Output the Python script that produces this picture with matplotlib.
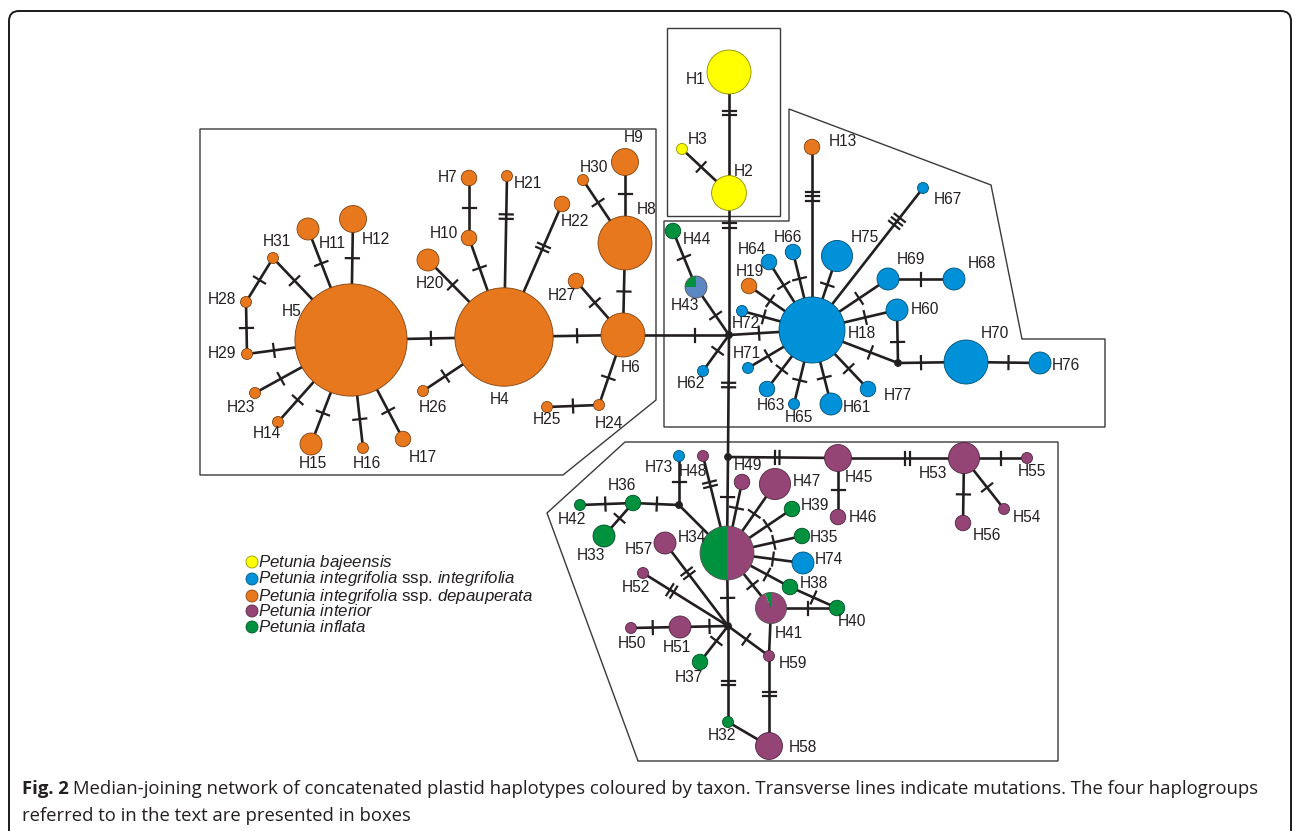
import numpy as np
import matplotlib.pyplot as plt
from matplotlib.patches import Circle, Wedge, Polygon, FancyBboxPatch

plt.rcParams['font.family'] = ['Liberation Sans', 'DejaVu Sans']

# taxa shown in the network
taxon_keys = ['baj', 'int', 'dep', 'inr', 'inf']
taxon_labels = [
    r'$\mathit{Petunia\ bajeensis}$',
    r'$\mathit{Petunia\ integrifolia}$ ssp. $\mathit{integrifolia}$',
    r'$\mathit{Petunia\ integrifolia}$ ssp. $\mathit{depauperata}$',
    r'$\mathit{Petunia\ interior}$',
    r'$\mathit{Petunia\ inflata}$',
]
taxon_colors = {'baj': '#ffff00', 'int': '#0091d8', 'dep': '#e8781e',
                'inr': '#944475', 'inf': '#00913f', 'unk': '#5b87c2'}

# haplotype frequencies by taxon
freq_baj = {'H1': 16, 'H2': 10, 'H3': 1}
freq_dep = {'H4': 80, 'H5': 104, 'H6': 16, 'H7': 2, 'H8': 24, 'H9': 6, 'H10': 2,
            'H11': 4, 'H12': 6, 'H13': 2, 'H14': 1, 'H15': 4, 'H16': 1, 'H17': 2,
            'H19': 2, 'H20': 4, 'H21': 1, 'H22': 2, 'H23': 1, 'H24': 1, 'H25': 1,
            'H26': 1, 'H27': 2, 'H28': 1, 'H29': 1, 'H30': 1, 'H31': 1}
freq_int = {'H18': 36, 'H60': 4, 'H61': 4, 'H62': 1, 'H63': 2, 'H64': 2, 'H65': 1,
            'H66': 2, 'H67': 1, 'H68': 4, 'H69': 4, 'H70': 16, 'H71': 1, 'H72': 1,
            'H73': 1, 'H74': 4, 'H75': 8, 'H76': 4, 'H77': 2}
freq_inr = {'H45': 6, 'H46': 2, 'H47': 8, 'H48': 1, 'H49': 2, 'H50': 1, 'H51': 4,
            'H52': 1, 'H53': 8, 'H54': 1, 'H55': 1, 'H56': 2, 'H57': 4, 'H58': 6,
            'H59': 1}
freq_inf = {'H32': 1, 'H33': 4, 'H35': 2, 'H36': 2, 'H37': 2, 'H38': 2, 'H39': 2,
            'H40': 2, 'H42': 1, 'H44': 2}
# shared haplotypes (slices in drawing order, starting at the top)
freq_mixed = {'H34': [('inf', 12), ('inr', 12)],
              'H43': [('inf', 1), ('unk', 3)],
              'H41': [('inf', 0.5), ('inr', 7.5)]}

# network edges: (from, to, mutations, tick position along the gap)
edges = [
    ('H1', 'H2', 2, 0.23), ('H3', 'H2', 1, 0.5), ('H2', 'mv1', 2, 0.12),
    ('H5', 'H4', 1, 0.5), ('H4', 'H6', 1, 0.5), ('H6', 'H8', 1, 0.5),
    ('H9', 'H8', 1, 0.45), ('H30', 'H8', 1, 0.5), ('H27', 'H6', 1, 0.5),
    ('H6', 'H24', 1, 0.5), ('H25', 'H24', 1, 0.5), ('H26', 'H4', 1, 0.5),
    ('H20', 'H4', 1, 0.5), ('H10', 'H4', 1, 0.5), ('H7', 'H10', 1, 0.5),
    ('H21', 'H4', 2, 0.33), ('H22', 'H4', 2, 0.45), ('H12', 'H5', 1, 0.5),
    ('H11', 'H5', 1, 0.5), ('H31', 'H5', 1, 0.5), ('H28', 'H31', 1, 0.5),
    ('H29', 'H28', 1, 0.5), ('H29', 'H5', 1, 0.5), ('H23', 'H5', 1, 0.5),
    ('H14', 'H5', 1, 0.5), ('H15', 'H5', 1, 0.5), ('H16', 'H5', 1, 0.5),
    ('H17', 'H5', 1, 0.5),
    ('H6', 'mv1', 1, 0.6), ('mv1', 'H18', 1, 0.6), ('H44', 'H43', 1, 0.5),
    ('H43', 'mv1', 1, 0.5), ('mv1', 'H62', 1, 0.5), ('H72', 'H18', 1, 0.5),
    ('H19', 'H18', 1, 0.5), ('H64', 'H18', 1, 0.5), ('H66', 'H18', 1, 0.5),
    ('H13', 'H18', 3, 0.29), ('H75', 'H18', 1, 0.5), ('H67', 'H18', 3, 0.26),
    ('H18', 'H69', 1, 0.5), ('H69', 'H68', 1, 0.5), ('H18', 'H60', 1, 0.5),
    ('H60', 'mv5', 1, 0.5), ('H18', 'mv5', 1, 0.5), ('mv5', 'H70', 1, 0.5),
    ('H70', 'H76', 1, 0.5), ('H18', 'H77', 1, 0.5), ('H18', 'H61', 1, 0.5),
    ('H18', 'H65', 1, 0.5), ('H18', 'H63', 1, 0.5), ('H18', 'H71', 1, 0.5),
    ('mv1', 'mv2', 2, 0.41),
    ('mv2', 'H34', 1, 0.58), ('mv2', 'H45', 2, 0.51), ('H45', 'H53', 2, 0.58),
    ('H45', 'H46', 1, 0.5), ('H53', 'H55', 1, 0.5), ('H53', 'H54', 1, 0.5),
    ('H53', 'H56', 1, 0.5), ('H49', 'H34', 1, 0.5), ('H47', 'H34', 1, 0.5),
    ('H48', 'H34', 2, 0.35), ('mv4', 'H34', 0, 0.5), ('H73', 'mv4', 1, 0.47),
    ('H36', 'mv4', 1, 0.42), ('H42', 'H36', 1, 0.5), ('H36', 'H33', 1, 0.5),
    ('H34', 'H39', 1, 0.5), ('H34', 'H35', 1, 0.5), ('H34', 'H74', 1, 0.5),
    ('H34', 'H38', 1, 0.5), ('H38', 'H40', 1, 0.5), ('H41', 'H40', 1, 0.5),
    ('H34', 'H41', 1, 0.5), ('H34', 'mv3', 1, 0.39), ('H57', 'mv3', 2, 0.29),
    ('H52', 'mv3', 2, 0.3), ('H51', 'mv3', 1, 0.5), ('H50', 'H51', 1, 0.5),
    ('mv3', 'H37', 1, 0.5), ('mv3', 'H59', 1, 0.5), ('H41', 'H59', 0, 0.5),
    ('H59', 'H58', 2, 0.46), ('mv3', 'H32', 2, 0.63), ('H32', 'H58', 0, 0.5),
]

# network layout (pixel positions, y downwards)
pos = {
    'H1': (729, 72), 'H2': (729, 193), 'H3': (682, 149),
    'H4': (504, 337), 'H5': (351, 340), 'H6': (623, 335), 'H7': (469, 178),
    'H8': (625, 243), 'H9': (625, 162), 'H10': (469, 238), 'H11': (308, 229),
    'H12': (353, 219), 'H13': (812, 147), 'H14': (278, 422), 'H15': (311, 444),
    'H16': (363, 448), 'H17': (403, 439), 'H19': (749, 286), 'H20': (428, 260),
    'H21': (507, 176), 'H22': (562, 204), 'H23': (255, 393), 'H24': (599, 405),
    'H25': (547, 407), 'H26': (423, 391), 'H27': (576, 281), 'H28': (246, 302),
    'H29': (247, 354), 'H30': (583, 180), 'H31': (273, 258),
    'H18': (812, 330), 'H60': (897, 310), 'H61': (831, 404), 'H62': (703, 371),
    'H63': (767, 389), 'H64': (769, 262), 'H65': (794, 404), 'H66': (793, 252),
    'H67': (923, 188), 'H68': (954, 279), 'H69': (888, 279), 'H70': (966, 362),
    'H71': (748, 368), 'H72': (742, 311), 'H73': (679, 456), 'H74': (803, 563),
    'H75': (837, 256), 'H76': (1040, 363), 'H77': (868, 389),
    'H45': (838, 458), 'H46': (838, 517), 'H47': (775, 484), 'H48': (703, 456),
    'H49': (742, 482), 'H50': (631, 628), 'H51': (680, 627), 'H52': (643, 573),
    'H53': (964, 458), 'H54': (1004, 509), 'H55': (1027, 458), 'H56': (963, 523),
    'H57': (665, 543), 'H58': (769, 746), 'H59': (769, 656),
    'H32': (728, 722), 'H33': (604, 536), 'H35': (802, 536), 'H36': (633, 503),
    'H37': (700, 662), 'H38': (790, 587), 'H39': (792, 509), 'H40': (837, 608),
    'H42': (580, 505), 'H44': (673, 231),
    'H34': (727, 553), 'H43': (696, 287), 'H41': (771, 608),
    'mv1': (729, 335), 'mv2': (728, 457), 'mv3': (728, 626), 'mv4': (679, 505),
    'mv5': (898, 363),
}

label_pos = {
    'H1': (696, 80), 'H2': (744, 171), 'H3': (698, 140),
    'H4': (500, 399), 'H5': (292, 312), 'H6': (631, 367), 'H7': (448, 177),
    'H8': (647, 209), 'H9': (634, 138), 'H10': (444, 233), 'H11': (332, 243),
    'H12': (376, 239), 'H13': (843, 141), 'H14': (267, 434), 'H15': (313, 463),
    'H16': (367, 464), 'H17': (423, 457), 'H19': (750, 272), 'H20': (430, 283),
    'H21': (528, 184), 'H22': (575, 222), 'H23': (241, 408), 'H24': (609, 423),
    'H25': (547, 420), 'H26': (433, 407), 'H27': (562, 296), 'H28': (222, 300),
    'H29': (222, 354), 'H30': (594, 167), 'H31': (277, 242),
    'H18': (862, 333), 'H60': (925, 310), 'H61': (857, 407), 'H62': (691, 384),
    'H63': (771, 406), 'H64': (752, 250), 'H65': (799, 417), 'H66': (788, 238),
    'H67': (948, 199), 'H68': (982, 264), 'H69': (911, 259), 'H70': (995, 334),
    'H71': (747, 354), 'H72': (746, 324), 'H73': (659, 468), 'H74': (829, 560),
    'H75': (865, 237), 'H76': (1066, 366), 'H77': (898, 395),
    'H45': (859, 477), 'H46': (863, 517), 'H47': (807, 482), 'H48': (693, 471),
    'H49': (748, 466), 'H50': (632, 643), 'H51': (677, 647), 'H52': (636, 588),
    'H53': (933, 473), 'H54': (1027, 517), 'H55': (1032, 472), 'H56': (987, 536),
    'H57': (639, 550), 'H58': (803, 748), 'H59': (793, 664),
    'H32': (722, 735), 'H33': (591, 555), 'H35': (824, 538), 'H36': (622, 486),
    'H37': (689, 678), 'H38': (814, 583), 'H39': (815, 505), 'H40': (852, 622),
    'H42': (572, 520), 'H44': (697, 240),
    'H34': (692, 538), 'H43': (685, 305), 'H41': (789, 633),
}

# haplogroup boxes
boxes = [
    [(200, 129), (656, 129), (656, 400), (563, 475), (200, 475)],
    [(667, 28), (780, 28), (780, 216), (667, 216)],
    [(664, 221), (789, 221), (789, 109), (991, 185), (1022, 339), (1105, 339),
     (1105, 427), (664, 427)],
    [(625, 442), (1058, 442), (1058, 761), (638, 761), (547, 513)],
]

W, H = 1295, 831
fig = plt.figure(figsize=(W / 100, H / 100), dpi=100)
ax = fig.add_axes([0, 0, 1, 1])
ax.set_xlim(0, W)
ax.set_ylim(H, 0)
ax.set_aspect('equal')
ax.axis('off')

ink = '#231f20'


def darker(c, f=0.55):
    rgb = np.array(plt.matplotlib.colors.to_rgb(c))
    return tuple(rgb * f)


# node table: colour slices and radius from frequency
nodes = {}
for key, table in [('baj', freq_baj), ('dep', freq_dep), ('int', freq_int),
                   ('inr', freq_inr), ('inf', freq_inf)]:
    for name, n in table.items():
        nodes[name] = [(key, n)]
nodes.update(freq_mixed)


def radius(name):
    if name.startswith('mv'):
        return 0.0
    return 5.5 * np.sqrt(sum(n for _, n in nodes[name]))


# edges and mutation ticks
for a, b, muts, t in edges:
    pa, pb = np.array(pos[a], float), np.array(pos[b], float)
    ax.plot([pa[0], pb[0]], [pa[1], pb[1]], color=ink, lw=1.9, zorder=1,
            solid_capstyle='butt')
    if muts == 0:
        continue
    d = pb - pa
    u = d / np.hypot(*d)
    nrm = np.array([-u[1], u[0]])
    start = pa + u * radius(a)
    end = pb - u * radius(b)
    p = start + t * (end - start)
    for k in range(muts):
        c = p + u * (k - (muts - 1) / 2) * 4.5
        q1, q2 = c - nrm * 6.5, c + nrm * 6.5
        ax.plot([q1[0], q2[0]], [q1[1], q2[1]], color=ink, lw=1.6, zorder=2)

# median vectors
for name, (x, y) in pos.items():
    if name.startswith('mv'):
        ax.add_patch(Circle((x, y), 3.2, color=ink, zorder=3))

# haplotype circles
for name, parts in nodes.items():
    x, y = pos[name]
    r = radius(name)
    total = sum(n for _, n in parts)
    if len(parts) == 1:
        col = taxon_colors[parts[0][0]]
        ax.add_patch(Circle((x, y), r, facecolor=col, edgecolor=darker(col),
                            lw=0.6, zorder=4))
    else:
        # angles run clockwise on screen because the y axis points down
        ang = -90.0
        for key, n in parts:
            span = 360.0 * n / total
            ax.add_patch(Wedge((x, y), r, ang - span, ang,
                               facecolor=taxon_colors[key], lw=0, zorder=4))
            ang -= span
        ax.add_patch(Circle((x, y), r, fill=False, edgecolor='#555555',
                            lw=0.6, zorder=5))

for name, (x, y) in label_pos.items():
    ax.text(x, y, name, fontsize=11.2, ha='center', va='center', color=ink,
            zorder=6)

for pts in boxes:
    ax.add_patch(Polygon(pts, closed=True, fill=False, edgecolor='#3a3a3a',
                         lw=1.0, zorder=0))

# legend
plt.rcParams['mathtext.fontset'] = 'custom'
plt.rcParams['mathtext.it'] = 'Liberation Sans:italic'
plt.rcParams['mathtext.rm'] = 'Liberation Sans'
leg_y = [562, 579, 596, 611, 627]
for key, label, y in zip(taxon_keys, taxon_labels, leg_y):
    col = taxon_colors[key]
    ax.add_patch(Circle((252, y), 6, facecolor=col, edgecolor=darker(col, 0.6),
                        lw=0.6, zorder=4))
    ax.text(258.5, y, label, fontsize=12.2, ha='left', va='center', color=ink)

# outer frame and caption
ax.add_patch(FancyBboxPatch((9, 11), 1282, 860,
                            boxstyle='round,pad=0,rounding_size=10',
                            fill=False, edgecolor='#1a1a1a', lw=1.4,
                            clip_on=True))

cap_font = ['Open Sans', 'DejaVu Sans']
cap_size = 13.3
bold = ax.text(22, 789, 'Fig. 2', fontsize=cap_size, fontweight='bold',
               family=cap_font, ha='left', va='center', color=ink)
fig.canvas.draw()
bb = bold.get_window_extent(renderer=fig.canvas.get_renderer())
x_end = ax.transData.inverted().transform((bb.x1, bb.y0))[0]
ax.text(x_end + 4, 789,
        'Median-joining network of concatenated plastid haplotypes coloured by '
        'taxon. Transverse lines indicate mutations. The four haplogroups',
        fontsize=cap_size, family=cap_font, ha='left', va='center', color=ink)
ax.text(22, 816, 'referred to in the text are presented in boxes',
        fontsize=cap_size, family=cap_font, ha='left', va='center', color=ink)

fig.savefig('out.png', dpi=100)
